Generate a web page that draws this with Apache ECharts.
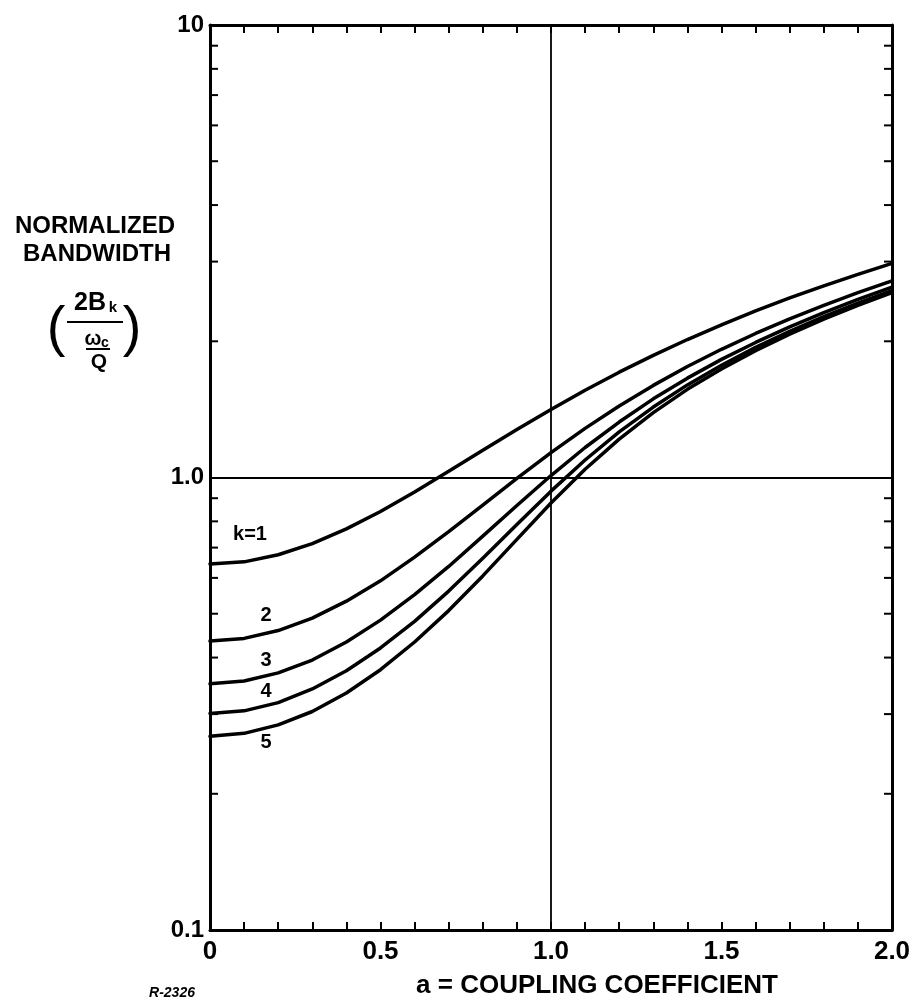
<!DOCTYPE html>
<html><head><meta charset="utf-8">
<script src="https://cdn.jsdelivr.net/npm/echarts@6/dist/echarts.min.js"></script>
<style>html,body{margin:0;padding:0;background:#fff}#c{width:923px;height:1008px}</style>
</head><body><div id="c"></div>
<script>
// coupling coefficient a (x axis)
const couplingA = [0,0.1,0.2,0.3,0.4,0.5,0.6,0.7,0.8,0.9,1.0,1.1,1.2,1.3,1.4,1.5,1.6,1.7,1.8,1.9,2.0];
// normalized bandwidth for k = 1..5
const bwK1 = [0.644,0.651,0.675,0.714,0.770,0.841,0.929,1.032,1.149,1.277,1.414,1.559,1.709,1.862,2.018,2.175,2.334,2.493,2.652,2.812,2.972];
const bwK2 = [0.435,0.441,0.459,0.489,0.533,0.591,0.667,0.759,0.869,0.995,1.135,1.284,1.439,1.598,1.759,1.920,2.081,2.242,2.402,2.562,2.720];
const bwK3 = [0.350,0.355,0.370,0.395,0.433,0.484,0.551,0.636,0.742,0.867,1.010,1.165,1.326,1.492,1.658,1.824,1.988,2.152,2.314,2.474,2.634];
const bwK4 = [0.301,0.305,0.318,0.341,0.374,0.420,0.481,0.561,0.663,0.787,0.933,1.093,1.261,1.431,1.602,1.771,1.939,2.104,2.268,2.429,2.589];
const bwK5 = [0.268,0.272,0.284,0.304,0.334,0.376,0.433,0.508,0.606,0.730,0.878,1.043,1.216,1.391,1.566,1.738,1.907,2.074,2.239,2.402,2.562];
const curveLabels = ['k=1','2','3','4','5'];
const xTickLabels = ['0','0.5','1.0','1.5','2.0'];
const yTickValues = [0.1,1,10];
const yTickLabels = ['0.1','1.0','10'];
const yMinorTicks = [0.2,0.3,0.4,0.5,0.6,0.7,0.8,0.9,2,3,4,5,6,7,8,9];
const xTitle = 'a = COUPLING COEFFICIENT';
const yTitle1 = 'NORMALIZED';
const yTitle2 = 'BANDWIDTH';
const noteText = 'R-2326';

const FF = "'Liberation Sans', Arial, sans-serif";
const curves = [bwK1,bwK2,bwK3,bwK4,bwK5];
const chart = echarts.init(document.getElementById('c'), null, {renderer:'canvas'});

const axisLineStyle = {color:'#000', width:3};
const tickStyle = {color:'#000', width:2};

function txt(text, x, y, font, extra) {
  return Object.assign({type:'text', x:x, y:y, silent:true, z:10,
    style:{text:text, font:font, fill:'#000', align:'center', verticalAlign:'middle', textAlign:'center', textVerticalAlign:'middle'}}, extra||{});
}

const curveLabelPos = [[250,534],[266,615],[266,660],[266,691],[266,742]];

const option = {
  backgroundColor:'#fff',
  animation:false,
  grid:{left:210, right:31, top:25, bottom:78, containLabel:false},
  xAxis:[
    {type:'value', min:0, max:2, interval:0.5, position:'bottom',
     axisLine:{show:true, onZero:false, lineStyle:axisLineStyle},
     axisTick:{show:true, inside:true, length:8, lineStyle:tickStyle},
     minorTick:{show:true, splitNumber:5, length:8, lineStyle:tickStyle},
     splitLine:{show:false}, minorSplitLine:{show:false},
     axisLabel:{show:true, margin:9, color:'#000', fontFamily:FF, fontWeight:'bold', fontSize:26,
       formatter:(v)=>xTickLabels[Math.round(v/0.5)]}},
    {type:'value', min:0, max:2, interval:0.5, position:'top',
     axisLine:{show:true, onZero:false, lineStyle:axisLineStyle},
     axisTick:{show:true, inside:true, length:8, lineStyle:tickStyle},
     minorTick:{show:true, splitNumber:5, length:8, lineStyle:tickStyle},
     splitLine:{show:false}, axisLabel:{show:false}}
  ],
  yAxis:[
    {type:'log', logBase:10, min:0.1, max:10, position:'left',
     axisLine:{show:true, onZero:false, lineStyle:axisLineStyle},
     axisTick:{show:false}, splitLine:{show:false},
     axisLabel:{show:true, margin:6, color:'#000', fontFamily:FF, fontWeight:'bold', fontSize:24,
       formatter:(v)=>{const i=yTickValues.findIndex(t=>Math.abs(Math.log10(t)-Math.log10(v))<1e-6); return i>=0?yTickLabels[i]:'';}}},
    {type:'log', logBase:10, min:0.1, max:10, position:'right',
     axisLine:{show:true, onZero:false, lineStyle:axisLineStyle},
     axisTick:{show:false}, splitLine:{show:false}, axisLabel:{show:false}}
  ],
  series: curves.map((d,i)=>({
    type:'line', name:curveLabels[i], xAxisIndex:0, yAxisIndex:0,
    data: couplingA.map((a,j)=>[a,d[j]]),
    smooth:false, showSymbol:false, silent:true, z:3,
    lineStyle:{color:'#000', width:3.5, join:'round', cap:'round'},
    markLine: i===0 ? {symbol:'none', silent:true, label:{show:false},
      lineStyle:{color:'#000', width:1.8, type:'solid'},
      data:[{xAxis:1},{yAxis:1}]} : undefined
  })).concat([{
    type:'custom', xAxisIndex:0, yAxisIndex:0, silent:true, z:4,
    data: yMinorTicks.map(v=>[0,v]),
    encode:{x:0, y:1},
    renderItem:(params, api)=>{
      const v = api.value(1);
      const l = api.coord([0, v]);
      const r = api.coord([2, v]);
      return {type:'group', children:[
        {type:'line', shape:{x1:l[0], y1:l[1], x2:l[0]+8, y2:l[1]}, style:{stroke:'#000', lineWidth:2}},
        {type:'line', shape:{x1:r[0]-8, y1:r[1], x2:r[0], y2:r[1]}, style:{stroke:'#000', lineWidth:2}}
      ]};
    }
  }]),
  graphic:[
    txt(xTitle, 597, 986, 'bold 26px '+FF),
    txt(yTitle1, 95, 226, 'bold 24px '+FF),
    txt(yTitle2, 97, 254, 'bold 24px '+FF),
    txt('(', 56, 330, 'normal 56px '+FF),
    txt(')', 132, 330, 'normal 56px '+FF),
    txt('2B', 90, 303, 'bold 25px '+FF),
    txt('k', 113, 308, 'bold 15px '+FF),
    {type:'rect', silent:true, z:10, shape:{x:67, y:321, width:56, height:2}, style:{fill:'#000'}},
    txt('ω', 93, 339, 'bold 20px '+FF),
    txt('c', 105, 343, 'bold 14px '+FF),
    {type:'rect', silent:true, z:10, shape:{x:86, y:348, width:24, height:2}, style:{fill:'#000'}},
    txt('Q', 99, 362, 'bold 21px '+FF),
    txt(noteText, 172, 993, 'italic bold 14px '+FF)
  ].concat(curveLabels.map((s,i)=>txt(s, curveLabelPos[i][0], curveLabelPos[i][1], 'bold 20px '+FF)))
};
chart.setOption(option);
</script>
</body></html>
